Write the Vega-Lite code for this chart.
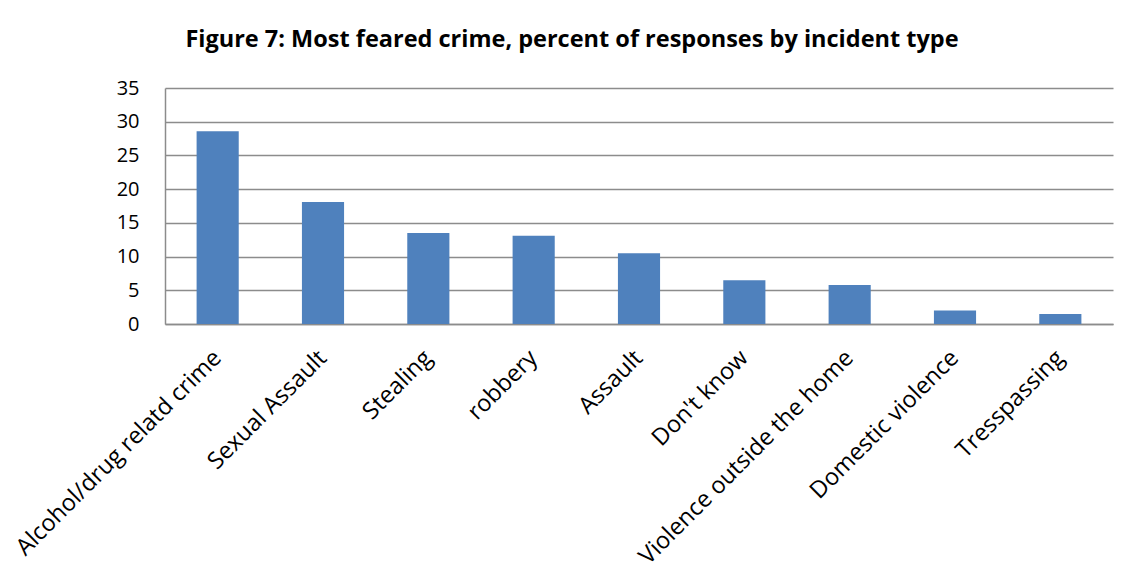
{
  "$schema": "https://vega.github.io/schema/vega-lite/v6.json",
  "width": 948,
  "height": 236,
  "autosize": {"type": "none"},
  "padding": {"left": 165, "top": 88, "right": 31, "bottom": 263},
  "background": "white",
  "title": {
    "text": "Figure 7: Most feared crime, percent of responses by incident type",
    "font": "Open Sans",
    "fontWeight": "bold",
    "fontSize": 23.5,
    "color": "#000000",
    "anchor": "middle",
    "frame": "group",
    "dx": -67,
    "offset": 27
  },
  "data": {
    "values": [
      {"crime": "Alcohol/drug relatd crime", "percent": 28.6},
      {"crime": "Sexual Assault", "percent": 18.1},
      {"crime": "Stealing", "percent": 13.5},
      {"crime": "robbery", "percent": 13.1},
      {"crime": "Assault", "percent": 10.5},
      {"crime": "Don't know", "percent": 6.5},
      {"crime": "Violence outside the home", "percent": 5.8},
      {"crime": "Domestic violence", "percent": 2.0},
      {"crime": "Tresspassing", "percent": 1.5}
    ]
  },
  "mark": {"type": "bar", "color": "#4f81bd"},
  "encoding": {
    "x": {
      "field": "crime",
      "type": "nominal",
      "sort": null,
      "title": null,
      "scale": {"paddingInner": 0.6, "paddingOuter": 0.3},
      "axis": {
        "labelAngle": -45,
        "labelAlign": "right",
        "labelBaseline": "middle",
        "labelFont": "Open Sans",
        "labelFontSize": 23.5,
        "labelColor": "#000000",
        "labelPadding": 30,
        "ticks": false,
        "domainColor": "#8c8c8c",
        "domainWidth": 1.5,
        "labelLimit": 0
      }
    },
    "y": {
      "field": "percent",
      "type": "quantitative",
      "title": null,
      "scale": {"domain": [0, 35], "nice": false},
      "axis": {
        "values": [0, 5, 10, 15, 20, 25, 30, 35],
        "labelFont": "Open Sans",
        "labelFontSize": 20,
        "labelColor": "#000000",
        "labelPadding": 26,
        "ticks": false,
        "domainColor": "#8c8c8c",
        "domainWidth": 1.5,
        "gridColor": "#8c8c8c",
        "gridWidth": 1.5
      }
    }
  },
  "config": {
    "view": {"stroke": "#8c8c8c", "strokeWidth": 0}
  }
}
